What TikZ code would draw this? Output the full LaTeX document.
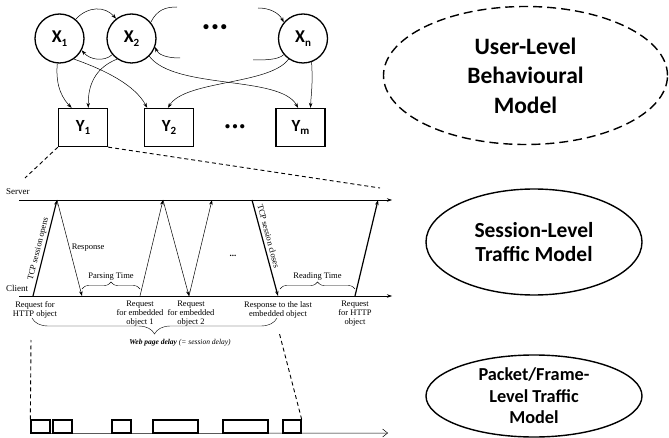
\documentclass[tikz,border=0pt]{standalone}
\usepackage{fontspec}
\setmainfont{Liberation Serif}
\newfontfamily\calibfont{Carlito}
\usetikzlibrary{arrows.meta,decorations.pathreplacing,shapes.geometric}

\newcommand{\lowidx}[1]{\raisebox{-0.4ex}{\fontsize{11}{11}\selectfont #1}}

\tikzset{
    xnode/.style={circle, draw, line width=1.3pt, minimum size=49pt, inner sep=0pt, font=\calibfont\bfseries\fontsize{18}{20}\selectfont},
    ynode/.style={rectangle, draw, line width=1.3pt, minimum width=49pt, minimum height=38pt, inner sep=0pt, font=\calibfont\bfseries\fontsize{17}{20}\selectfont},
    link/.style={-{Stealth[length=5pt,width=3.5pt]}, line width=0.5pt},
    msg/.style={-{Stealth[length=5pt,width=3.5pt]}, line width=0.5pt},
    tcp/.style={msg, line width=1.2pt},
    model/.style={ellipse, draw, line width=1.4pt, align=center, inner sep=0pt, font=\calibfont\bfseries},
    brc/.style={decorate, decoration={brace, amplitude=7pt}, line width=0.4pt},
    lbl/.style={font=\fontsize{8.5}{9}\selectfont, align=center, inner sep=0pt},
    pkt/.style={rectangle, draw, line width=1.3pt, minimum height=13pt, inner sep=0pt},
    zoomline/.style={dash pattern=on 4pt off 3pt, line width=0.9pt}
}

\begin{document}
\begin{tikzpicture}[x=1pt, y=-1pt]
    \useasboundingbox (0,0) rectangle (669,438);

    \node[xnode] (x1) at (59.5,38.5) {X\lowidx{1}};
    \node[xnode] (x2) at (131.5,38.5) {X\lowidx{2}};
    \node[xnode] (xn) at (303,38.5) {X\lowidx{n}};
    \node[font=\calibfont\bfseries\fontsize{12}{12}\selectfont] (xdots) at (215,28) {•\hspace{3pt}•\hspace{3pt}•};

    \node[ynode] (y1) at (83,127.5) {Y\lowidx{1}};
    \node[ynode] (y2) at (169,127.5) {Y\lowidx{2}};
    \node[ynode] (ym) at (300.5,127.5) {Y\lowidx{m}};
    \node[font=\calibfont\bfseries\fontsize{10}{10}\selectfont] (ydots) at (235,127) {•\hspace{2.5pt}•\hspace{2.5pt}•};

    \coordinate (g1) at (177,7);
    \coordinate (g2) at (258,8);
    \coordinate (g3) at (180,58);
    \coordinate (g4) at (253,60);

    \draw[link] (x1.50) .. controls (88,6) and (105,6) .. (x2.128);
    \draw[link] (x2.220) .. controls (104,62) and (90,60) .. (x1.-28);
    \draw[line width=0.5pt] (x2.40) .. controls (157,10) and (165,7) .. (g1);
    \draw[link] (g2) .. controls (270,8) and (279,13) .. (xn.140);
    \draw[link] (g3) .. controls (165,58) and (158,54) .. (x2.-20);
    \draw[line width=0.5pt] (xn.220) .. controls (278,60) and (265,60) .. (g4);

    \draw[link] (x1.265) .. controls (55,88) and (64,100) .. (y1.120);
    \draw[link] (x2.235) .. controls (95,68) and (88,85) .. (y1.75);
    \draw[link] (x1.-55) .. controls (105,70) and (135,85) .. (y2.138);
    \draw[link] (x2.-45) .. controls (175,90) and (280,75) .. (ym.97);
    \draw[link] (xn.235) .. controls (270,85) and (185,80) .. (y2.93);
    \draw[link] (xn.-70) .. controls (313,85) and (311,95) .. (ym.63);

    \node[model, dash pattern=on 9pt off 5pt, minimum width=284pt, minimum height=138pt,
        font=\calibfont\bfseries\fontsize{23.5}{29.5}\selectfont] (um) at (525.5,75.5) {User-Level\\Behavioural\\Model};
    \node[model, minimum width=216pt, minimum height=106pt,
        font=\calibfont\bfseries\fontsize{21.5}{24.5}\selectfont] (sm) at (534,242) {Session-Level\\Traffic Model};
    \node[model, minimum width=216pt, minimum height=82pt,
        font=\calibfont\bfseries\fontsize{18.3}{21.5}\selectfont] (pm) at (534,396) {Packet/Frame-\\Level Traffic\\Model};

    \coordinate (z1) at (25,178);
    \coordinate (z2) at (380,188);
    \draw[zoomline] (y1.south west) -- (z1);
    \draw[zoomline] (y1.south east) -- (z2);

    \coordinate (s0) at (19,200);
    \coordinate (s1) at (392,200);
    \coordinate (c0) at (19,296);
    \coordinate (c1) at (392,296);
    \node[anchor=base west, inner sep=0pt, font=\fontsize{9}{10}\selectfont] (srv) at (6,195) {Server};
    \node[anchor=base west, inner sep=0pt, font=\fontsize{9}{10}\selectfont] (cli) at (6,291) {Client};
    \draw[msg] (s0) -- (s1);
    \draw[msg] (c0) -- (c1);

    \coordinate (r1) at (33,296);
    \coordinate (a1) at (82,296);
    \coordinate (r2) at (140,296);
    \coordinate (a2) at (189,296);
    \coordinate (a3) at (278,296);
    \coordinate (r3) at (355,296);
    \coordinate (v1) at (57,200);
    \coordinate (v2) at (163,200);
    \coordinate (v3) at (212,200);
    \coordinate (v4) at (252,200);
    \coordinate (v5) at (378,200);

    \draw[tcp] (r1) -- (v1);
    \draw[msg] (v1) -- (a1) node[midway, right=2pt, lbl] {Response};
    \draw[msg] (r2) -- (v2);
    \draw[msg] (v2) -- (a2);
    \draw[msg] (a2) -- (v3);
    \draw[tcp] (v4) -- (a3);
    \draw[tcp] (r3) -- (v5);
    \node[lbl, rotate=76] (opn) at (38.5,249) {TCP session opens};
    \node[lbl, rotate=-75] (cls) at (268.5,236) {TCP session closes};
    \node[font=\bfseries\fontsize{9}{10}\selectfont] (mdots) at (233,256) {...};

    \draw[brc] ([yshift=7pt]a1) -- ([yshift=7pt]r2) node[midway, above=8.5pt, lbl] {Parsing Time};
    \draw[brc] ([yshift=7pt,xshift=2pt]a3) -- ([yshift=7pt]r3) node[midway, above=8.5pt, lbl] {Reading Time};

    \node[lbl, anchor=north] (l1) at (35,301) {Request for\\HTTP object};
    \node[lbl, anchor=north] (l2) at (140,301) {Request\\for embedded\\object 1};
    \node[lbl, anchor=north] (l3) at (191,301) {Request\\for embedded\\object 2};
    \node[lbl, anchor=north] (l4) at (278,301) {Response to the last\\embedded object};
    \node[lbl, anchor=north] (l5) at (355,301) {Request\\for HTTP\\object};

    \coordinate (b1) at (32,318);
    \coordinate (b2) at (277,318);
    \draw[brc, decoration={brace, mirror, amplitude=16pt}] (b1) -- (b2);
    \node[lbl, font=\fontsize{7.5}{9}\selectfont] (wpd) at (180,343) {\textbf{\textit{Web page delay}} \textit{(= session delay)}};

    \foreach \x/\w [count=\i] in {40.5/19, 62.5/19, 121.5/19, 175.5/45, 245.5/45, 292/18}
        \node[pkt, minimum width=\w pt] (p\i) at (\x,426.5) {};
    \coordinate (tend) at (388,433);
    \draw[-{Straight Barb[length=5pt,width=8pt]}, line width=0.5pt] (p1.south west) -- (tend);

    \coordinate (d1) at (31,340);
    \coordinate (d2) at (279,332);
    \draw[zoomline] (p1.north west) -- (d1);
    \draw[zoomline] (p6.north east) -- (d2);
\end{tikzpicture}
\end{document}
